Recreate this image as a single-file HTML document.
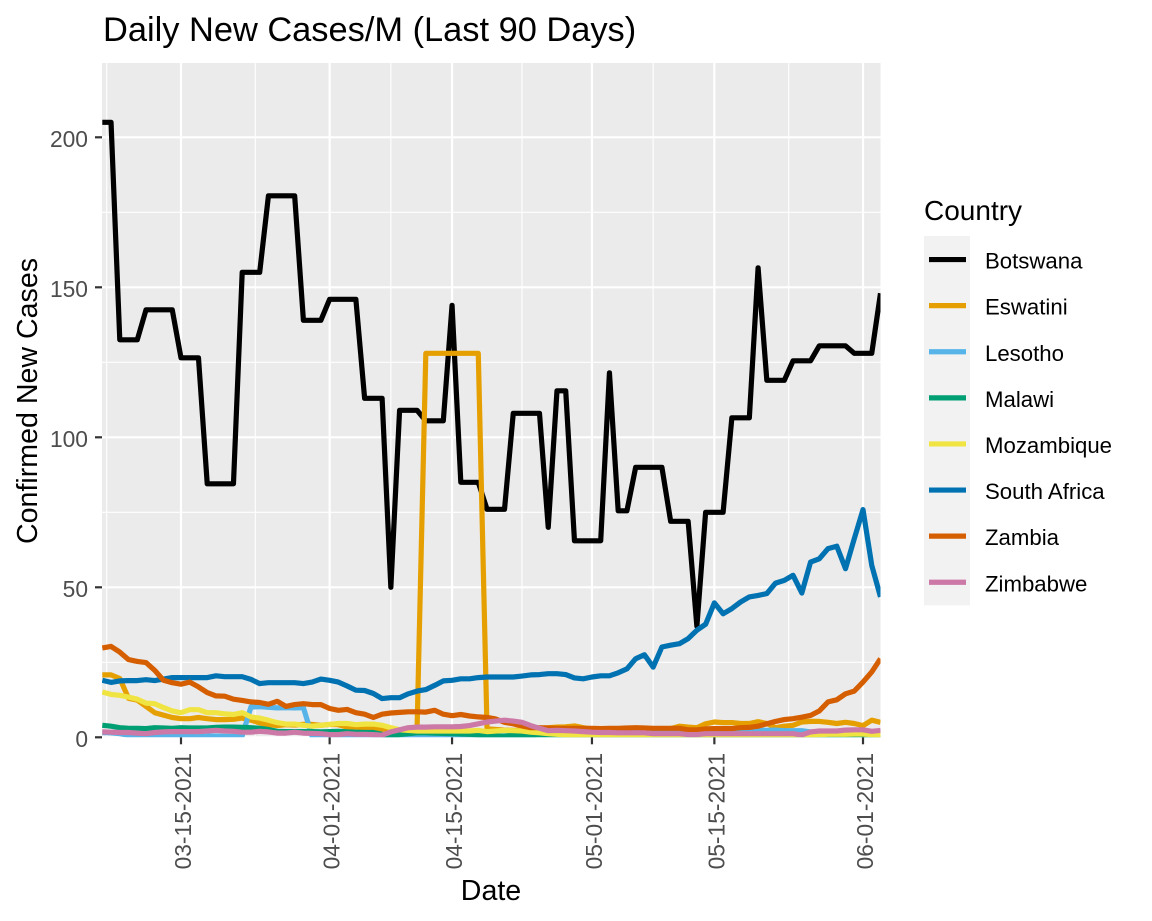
<!DOCTYPE html>
<html lang="en">
<head>
<meta charset="utf-8">
<title>Daily New Cases/M (Last 90 Days)</title>
<style>
html,body{margin:0;padding:0;background:#fff;width:1152px;height:921px;overflow:hidden}
svg{display:block;font-family:"Liberation Sans",Arial,sans-serif}
</style>
</head>
<body>
<svg id="chart" xmlns="http://www.w3.org/2000/svg" width="1152" height="921" viewBox="0 0 1152 921">
  <rect x="0" y="0" width="1152" height="921" fill="#ffffff"/>
  <text x="103" y="41" font-size="34.4" fill="#000">Daily New Cases/M (Last 90 Days)</text>
  <text x="491" y="900" font-size="28.6" text-anchor="middle" fill="#000">Date</text>
  <text transform="translate(37,401) rotate(-90)" font-size="28.6" text-anchor="middle" fill="#000">Confirmed New Cases</text>
  <text x="924" y="220" font-size="28" fill="#000">Country</text>
</svg>
<script>
const startDate = "2021-03-06";
const countries = ["Botswana","Eswatini","Lesotho","Malawi","Mozambique","South Africa","Zambia","Zimbabwe"];
const xTickLabels = ["03-15-2021","04-01-2021","04-15-2021","05-01-2021","05-15-2021","06-01-2021"];
const yTickValues = [0,50,100,150,200];

const botswana = [205,205,132.5,132.5,132.5,142.5,142.5,142.5,142.5,126.5,
126.5,126.5,84.5,84.5,84.5,84.5,155,155,155,180.5,
180.5,180.5,180.5,139,139,139,146,146,146,146,
113,113,113,50,109,109,109,105.5,105.5,105.5,
144,85,85,85,76,76,76,108,108,108,
108,70,115.5,115.5,65.5,65.5,65.5,65.5,121.5,75.5,
75.5,90,90,90,90,72,72,72,37,75,
75,75,106.5,106.5,106.5,156.5,119,119,119,125.5,
125.5,125.5,130.5,130.5,130.5,130.5,128,128,128,148];

const eswatini = [20.8,20.8,19.6,13,12.4,10.3,8.2,7.4,6.6,6.2,
6.2,6.6,6.2,5.9,5.9,6,6.4,5.7,4.8,4.2,
3.9,4.2,4.1,4.3,4.3,4,4.3,4.2,3.4,3.4,
3.1,2.9,2.7,2.6,2.5,2.6,3,128,128,128,
128,128,128,128,2.8,2.6,2.4,2.3,2.4,2.5,
3,3.2,3.4,3.5,3.8,3.2,2.7,2.6,2.6,2.6,
2.7,2.7,2.8,2.8,2.8,2.9,3.7,3.4,3.2,4.5,
5.1,4.9,4.9,4.6,4.6,5.2,4.6,3.2,3.7,4,
5.1,5.3,5.3,5,4.6,5,4.6,3.9,5.7,5];

const lesotho = [1.6,1.5,1.2,0.7,0.4,0.3,0.2,0.3,0.3,0.3,
0.3,0.2,0.4,0.4,0.3,0.3,0.5,10.1,10.2,10,
9.8,9.9,9.8,9.9,0.3,0.3,0.7,0.6,0.6,0.5,
0.6,0.6,0.5,0.2,0.3,0.3,0.3,0.3,0.3,0.3,
0.3,0.3,0.3,0.3,0.3,0.3,0.3,0.3,0.3,0.3,
1.2,1.2,1.2,1.2,1.1,1.2,1.2,1.2,1.2,1.2,
1.4,2.3,2.3,1.4,1.4,1.4,1.4,1.4,1.4,1.5,
1.5,1.5,1.6,2.2,2.2,2.3,2.3,2.4,2.2,2.2,
2.2,1.8,1.8,1.8,1.7,1.8,1.8,1.8,1.7,1.8];

const malawi = [4,3.7,3.2,3,3,2.9,3.2,3.1,3,3.2,
3.1,3.1,3.1,3.3,3.4,3.4,3.3,3.2,3,2.6,
2,1.9,1.9,1.9,1.9,1.8,1.9,2,1.8,1.7,
1.6,1.6,1,0.3,0.9,1.2,1.5,1.5,1.4,1.3,
1.2,1.1,1,0.8,0.4,0.4,0.4,0.7,0.7,0.7,
0.6,0.7,0.8,0.5,0.2,0.1,0.1,0.1,0.2,0.2,
0.2,0.2,0.2,0.2,0.2,0.1,0.1,0.2,0.2,0.2,
0.2,0.2,0.2,0.2,0.2,0.2,0.2,0.2,0.2,0.2,
0.2,0.2,0.2,0.2,0.2,0.2,0.2,0.2,0.2,0.2];

const mozambique = [15.1,14.3,14,13.4,12.7,11.4,11.2,9.9,8.8,8.2,
9.2,9.2,8.2,8.2,7.8,7.6,8.2,6.8,6.4,5.7,
4.9,4.4,4.4,4,3.7,4,4.3,4.6,4.6,4.2,
4.4,4.4,4,3.2,2.5,2.3,2.1,2.1,2.1,2.1,
2.1,2.1,2.1,2.3,1.9,2.1,2.3,2.2,2.1,1.7,
1.5,1.2,1,0.8,0.7,0.6,0.6,0.5,0.5,0.4,
0.4,0.4,0.4,0.4,0.4,0.3,0.4,0.4,0.4,0.4,
0.4,0.4,0.4,0.4,0.3,0.3,0.2,0.2,0.2,0.2,
0.4,0.7,0.9,1,1,1,1.1,1.1,0.9,0.7];

const southAfrica = [19,18.3,18.8,18.9,18.9,19.2,18.9,19.4,19.9,19.9,
19.9,19.9,19.9,20.5,20.2,20.2,20.2,19.3,17.9,18.2,
18.2,18.2,18.2,17.9,18.4,19.4,19,18.4,17.1,15.7,
15.6,14.6,12.9,13.2,13.2,14.5,15.4,15.9,17.3,18.8,
19,19.5,19.5,19.9,20.1,20.1,20.1,20.1,20.4,20.8,
20.9,21.2,21.2,20.9,19.8,19.5,20.1,20.5,20.5,21.5,
22.8,26.2,27.5,23.4,30.1,30.7,31.2,32.9,35.7,37.7,
44.8,41.2,42.9,45.1,46.8,47.3,47.9,51.4,52.3,54,
48.1,58.4,59.5,62.9,63.7,56.2,66.2,75.9,57.3,46.8];

const zambia = [29.8,30.3,28.4,25.9,25.3,24.9,22.3,19,18.2,17.7,
18.4,16.8,14.9,13.8,13.7,12.7,12.3,11.8,11.6,11,
12,10.3,10.9,11.2,10.9,10.9,9.6,9,9.3,8.2,
7.7,6.6,7.7,8.1,8.3,8.5,8.5,8.4,9,7.7,
7.2,7.6,7.1,6.8,6.6,6.1,5,4.5,3.8,3.2,
3.2,3.1,3,3,3,3,3,2.9,3,3,
3.1,3.2,3.1,3,3,3,3,2.5,2.5,2.8,
2.9,2.9,2.9,3.2,3.3,3.7,4.5,5.3,5.9,6.2,
6.7,7.3,8.8,11.8,12.5,14.5,15.4,18.4,21.8,26.2];

const zimbabwe = [1.8,1.7,1.6,1.6,1.4,1.2,1.6,1.8,1.9,1.9,
1.9,1.9,2.1,2.3,2.1,2,1.7,1.7,2,1.8,
1.4,1.4,1.7,1.4,1.3,1.2,0.9,0.9,1.2,1,
1,0.9,0.7,1.8,2.5,3.2,3.4,3.4,3.5,3.5,
3.5,3.6,3.9,4.5,5.1,5.4,5.7,5.4,5,3.9,
3,2.2,2.3,2.2,2.1,1.9,1.7,1.6,1.6,1.5,
1.5,1.5,1.5,1.2,1.2,1.2,1.2,0.9,0.9,1.2,
1.2,1.2,1.2,1.2,1.2,1.2,1.2,1.2,1.2,1.2,
0.8,1.8,2.1,2.1,2.1,2.4,2.5,2.5,2,2.3];

const seriesValues = [botswana,eswatini,lesotho,malawi,mozambique,southAfrica,zambia,zimbabwe];
const seriesColors = ["#000000","#E69F00","#56B4E9","#009E73","#F0E442","#0072B2","#D55E00","#CC79A7"];

const NS = "http://www.w3.org/2000/svg";
const svg = document.getElementById("chart");
const panel = {left:102,right:880.5,top:63,bottom:737.3};
const yPerUnit = 3.0;
const MS_DAY = 86400000;
const dayCount = botswana.length - 1;
function dayOf(label){
  const p = label.split("-");
  const t = Date.UTC(+p[2],+p[0]-1,+p[1]);
  const s = startDate.split("-");
  return (t - Date.UTC(+s[0],+s[1]-1,+s[2])) / MS_DAY;
}
function xScale(day){ return 102.3 + (panel.right-102.3)*day/dayCount; }
function yScale(v){ return panel.bottom - v*yPerUnit; }
function add(tag,attrs,parent){
  const el = document.createElementNS(NS,tag);
  for(const k in attrs){ el.setAttribute(k,attrs[k]); }
  (parent||svg).appendChild(el);
  return el;
}

// panel
const panelRect = add("rect",{x:panel.left,y:panel.top,width:panel.right-panel.left,height:panel.bottom-panel.top,fill:"#EBEBEB"});



const defs = add("defs",{});
const clip = add("clipPath",{id:"panel-clip"},defs);
add("rect",{x:panel.left,y:panel.top,width:panel.right-panel.left,height:panel.bottom-panel.top},clip);

const gridGroup = add("g",{});



// minor grid
const xMajor = xTickLabels.map(dayOf);
const xMinor = [xMajor[0]-(xMajor[1]-xMajor[0])/2];
for(let i=0;i<xMajor.length-1;i++){ xMinor.push((xMajor[i]+xMajor[i+1])/2); }
xMinor.forEach(function(d){
  const l = add("line",{x1:xScale(d),x2:xScale(d),y1:panel.top,y2:panel.bottom,stroke:"#fff","stroke-width":1.1},gridGroup);
  
  
});
const yMinor = [];
for(let i=0;i<yTickValues.length-1;i++){ yMinor.push((yTickValues[i]+yTickValues[i+1])/2); }
yMinor.forEach(function(v){
  const l = add("line",{x1:panel.left,x2:panel.right,y1:yScale(v),y2:yScale(v),stroke:"#fff","stroke-width":1.1},gridGroup);
  
  
});
// major grid, ticks, labels
xTickLabels.forEach(function(lbl){
  const x = xScale(dayOf(lbl));
  const g = add("line",{x1:x,x2:x,y1:panel.top,y2:panel.bottom,stroke:"#fff","stroke-width":2.2},gridGroup);
  
  
  const t = add("line",{x1:x,x2:x,y1:panel.bottom,y2:panel.bottom+7,stroke:"#333333","stroke-width":2.2});
  
  
  const txt = add("text",{transform:"translate("+(x+10)+","+(panel.bottom+15.5)+") rotate(-90)","font-size":22.8,"text-anchor":"end",fill:"#4D4D4D"});
  
  
  txt.textContent = lbl;
});
yTickValues.forEach(function(v){
  const y = yScale(v);
  const g = add("line",{x1:panel.left,x2:panel.right,y1:y,y2:y,stroke:"#fff","stroke-width":2.2},gridGroup);
  
  
  const t = add("line",{x1:panel.left-7,x2:panel.left,y1:y,y2:y,stroke:"#333333","stroke-width":2.2});
  
  
  const txt = add("text",{x:panel.left-14,y:y+9.5,"font-size":22.8,"text-anchor":"end",fill:"#4D4D4D"});
  
  
  txt.textContent = v;
});

// series
const seriesGroup = add("g",{"clip-path":"url(#panel-clip)"});


seriesValues.forEach(function(vals,si){
  const pts = vals.map(function(v,i){ return xScale(i).toFixed(2)+","+yScale(v).toFixed(2); }).join(" ");
  const line = add("polyline",{points:pts,fill:"none",stroke:seriesColors[si],"stroke-width":5.2,"stroke-linejoin":"round","stroke-linecap":"butt"},seriesGroup);
  
  
});

// legend
const keyTop = 236, keyH = 46.1, keyLeft = 924, keyW = 46;
const legend = add("g",{});


countries.forEach(function(name,i){
  const slug = name.toLowerCase().replace(/ /g,'-');
  const k = add("rect",{x:keyLeft,y:keyTop+i*keyH,width:keyW,height:keyH+0.5,fill:"#F2F2F2"},legend);
  
  
  const cy = keyTop+(i+0.5)*keyH+0.5;
  const l = add("line",{x1:keyLeft+5,x2:keyLeft+42,y1:cy,y2:cy,stroke:seriesColors[i],"stroke-width":5.2},legend);
  
  
  const t = add("text",{x:985,y:cy+9,"font-size":22.2,fill:"#000"},legend);
  
  
  t.textContent = name;
});
</script>
</body>
</html>
